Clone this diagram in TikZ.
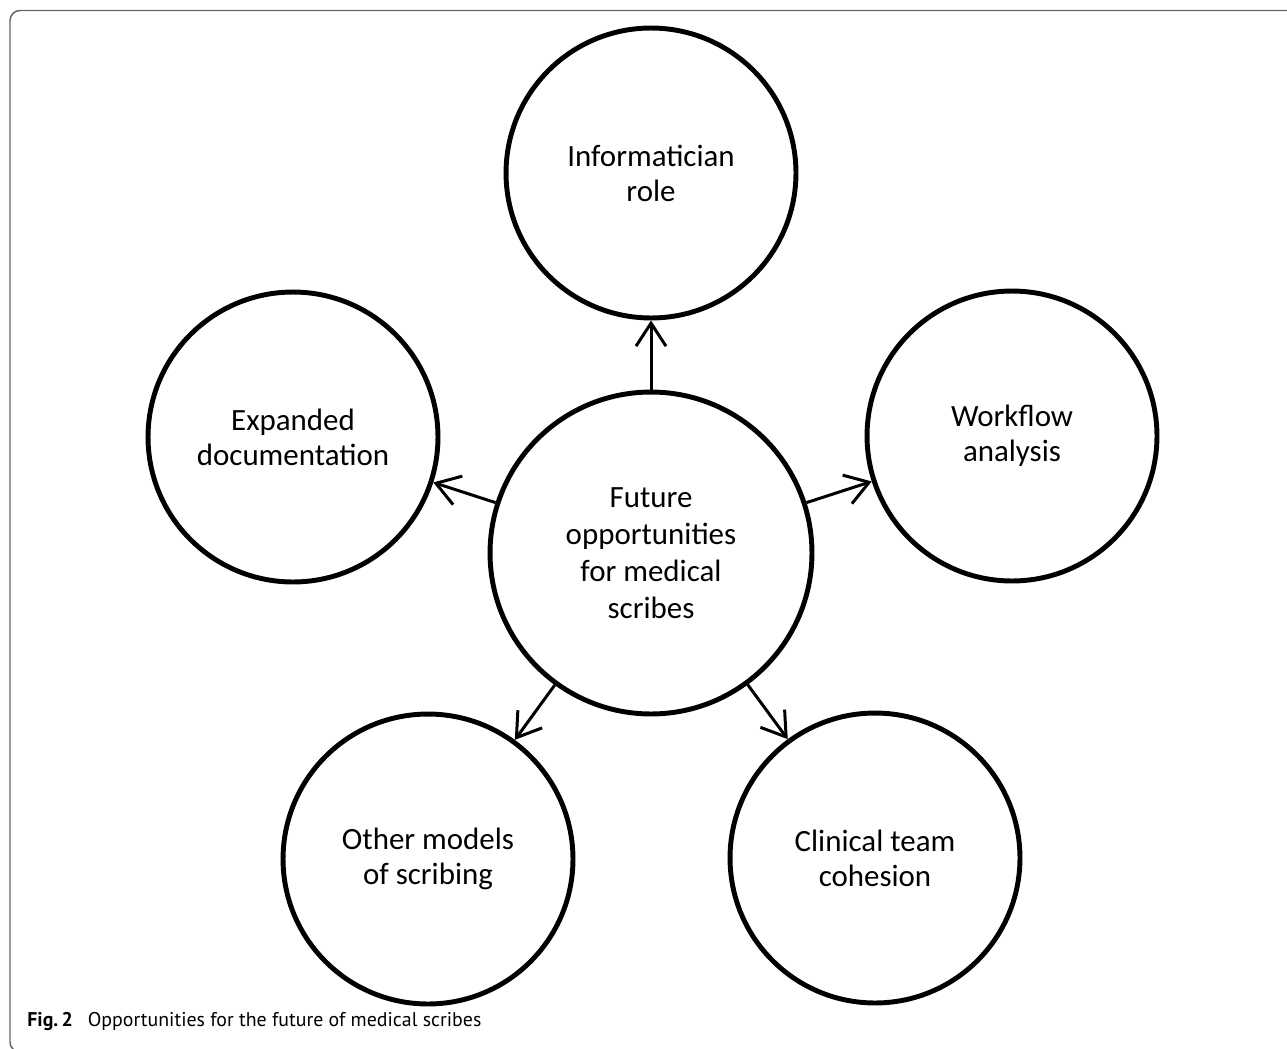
\documentclass[tikz,border=0pt]{standalone}
\usepackage{fontspec}
\setmainfont{Carlito}
\newfontfamily\capfont{PT Sans}
\usetikzlibrary{arrows.meta}

\begin{document}
\begin{tikzpicture}[x=0.02cm,y=-0.02cm,
    topic/.style={draw,circle,line width=2.8pt,minimum size=5.8cm,inner sep=0pt,align=center,
      font=\fontsize{17.6}{19.9}\selectfont},
    hub/.style={topic,minimum size=6.44cm,font=\fontsize{17.6}{21}\selectfont},
    link/.style={line width=1.7pt,-{Straight Barb[length=0.46cm,width=0.6cm]}}]
  \useasboundingbox (0,0) rectangle (1287,1048);
  % frame, cut off at the right and bottom
  \begin{scope}
    \clip (0,0) rectangle (1287,1048);
    \draw[black!60,line width=0.85pt,rounded corners=0.2cm] (10,10.5) rectangle (1300,1052);
  \end{scope}
  \node[hub] (hub) at (651,553) {Future\\opportunities\\for medical\\scribes};
  \node[topic] (info) at (651,173) {Informatician\\role};
  \node[topic] (docs) at (293,437) {Expanded\\documentation};
  \node[topic] (flow) at (1012,436) {Workflow\\analysis};
  \node[topic] (models) at (428,859) {Other models\\of scribing};
  \node[topic] (team) at (875,858) {Clinical team\\cohesion};
  \foreach \t in {info,docs,flow,models,team}
    \draw[link] (hub) -- (\t);
  \node[anchor=base west,inner sep=0pt,font=\capfont\fontsize{11.3}{13}\selectfont] (cap) at (27,1026)
    {\textbf{Fig.\,2}\hspace{0.3cm}Opportunities for the future of medical scribes};
\end{tikzpicture}
\end{document}
